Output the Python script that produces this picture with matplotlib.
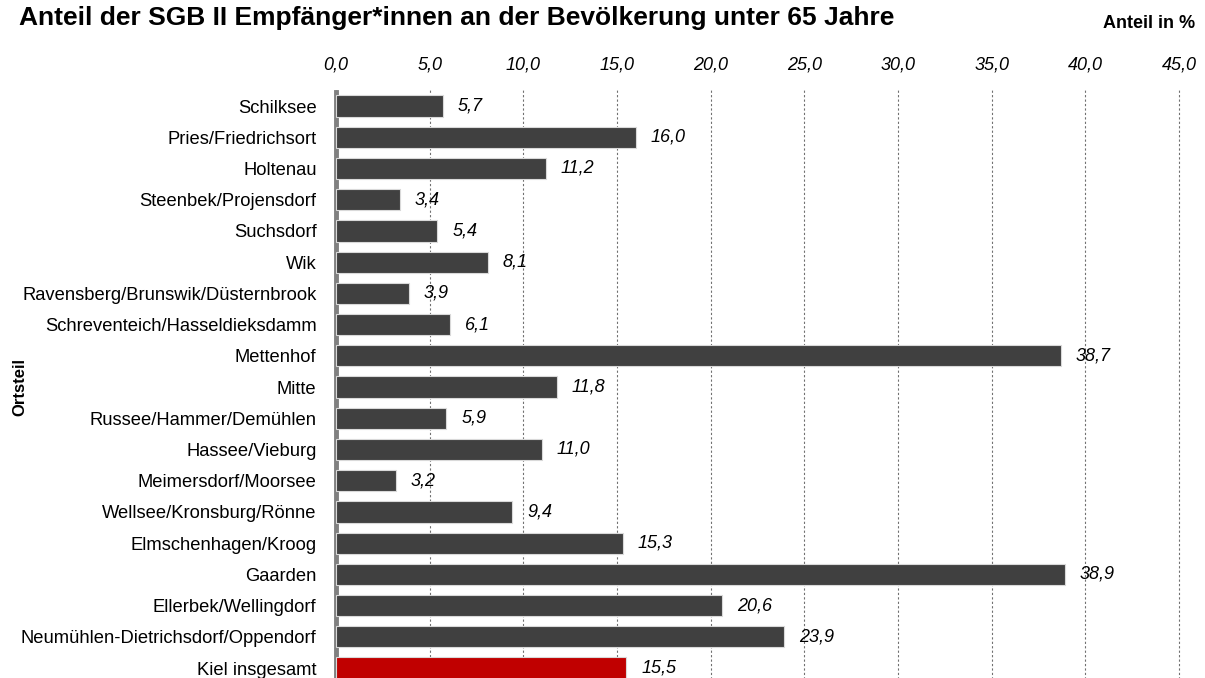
import matplotlib
matplotlib.use('Agg')
import matplotlib.pyplot as plt

ortsteile = ['Schilksee', 'Pries/Friedrichsort', 'Holtenau', 'Steenbek/Projensdorf',
             'Suchsdorf', 'Wik', 'Ravensberg/Brunswik/Düsternbrook',
             'Schreventeich/Hasseldieksdamm', 'Mettenhof', 'Mitte',
             'Russee/Hammer/Demühlen', 'Hassee/Vieburg', 'Meimersdorf/Moorsee',
             'Wellsee/Kronsburg/Rönne', 'Elmschenhagen/Kroog', 'Gaarden',
             'Ellerbek/Wellingdorf', 'Neumühlen-Dietrichsdorf/Oppendorf', 'Kiel insgesamt']
anteil = [5.7, 16.0, 11.2, 3.4, 5.4, 8.1, 3.9, 6.1, 38.7, 11.8, 5.9, 11.0, 3.2, 9.4,
          15.3, 38.9, 20.6, 23.9, 15.5]
xticks = [0, 5, 10, 15, 20, 25, 30, 35, 40, 45]

plt.rcParams['font.family'] = ['Liberation Sans', 'DejaVu Sans']

fig = plt.figure(figsize=(12.05, 6.78), dpi=100)
# x: 0 -> px 336, 45 -> px 1179; limit a bit past 45 so the last grid line shows
ax = fig.add_axes([0.2788, -0.0083, 0.7074, 0.8749])

colors = ['#404040'] * (len(anteil) - 1) + ['#c00000']
y = list(range(len(anteil)))
ax.barh(y, anteil, height=0.68, color=colors, edgecolor='#d9d9d9', linewidth=0.8, zorder=3)

for yi, v in zip(y, anteil):
    ax.text(v + 0.8, yi, f'{v:.1f}'.replace('.', ','), va='center', ha='left',
            fontsize=13, style='italic', color='black')

ax.set_ylim(len(anteil) - 0.5, -0.5)
ax.set_xlim(0, 45.5)
ax.set_yticks(y)
ax.set_yticklabels(ortsteile, fontsize=13.2)
ax.xaxis.tick_top()
ax.set_xticks(xticks)
ax.set_xticklabels([f'{t:.1f}'.replace('.', ',') for t in xticks], fontsize=13, style='italic')
ax.tick_params(axis='both', length=0)
ax.tick_params(axis='x', pad=12)
ax.tick_params(axis='y', pad=14)

ax.grid(axis='x', linestyle=(0, (2, 2)), color='#707070', linewidth=0.8, zorder=0)
for s in ['top', 'right', 'bottom']:
    ax.spines[s].set_visible(False)
ax.spines['left'].set_color('#808080')
ax.spines['left'].set_linewidth(3.5)
ax.spines['left'].set_bounds(len(anteil) - 0.5, -0.45)

ax.set_ylabel('Ortsteil', fontsize=12, fontweight='bold')
ax.yaxis.set_label_coords(-0.362, 0.5)

fig.text(0.0158, 0.974, 'Anteil der SGB II Empfänger*innen an der Bevölkerung unter 65 Jahre',
         fontsize=19, fontweight='bold', va='center', ha='left')
fig.text(0.9915, 0.966, 'Anteil in %', fontsize=13, fontweight='bold', va='center', ha='right')

fig.savefig('out.png', dpi=100)
